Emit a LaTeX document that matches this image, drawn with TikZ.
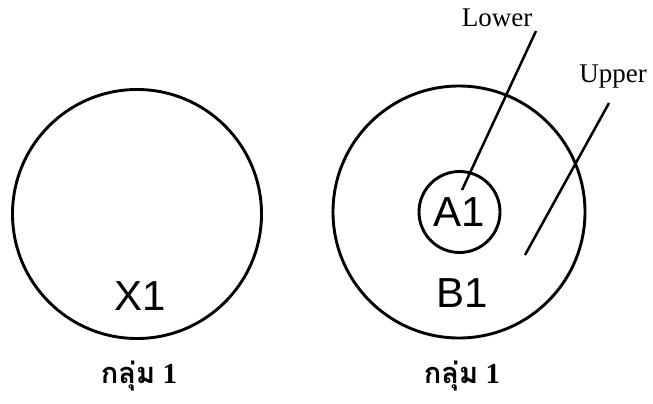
\documentclass[tikz,border=0pt]{standalone}
\usepackage{fontspec}
\setmainfont{Liberation Serif}
\setsansfont{Liberation Sans}
\newfontfamily\thaifont[Script=Thai]{Loma}
\tikzset{
  ring/.style={draw, circle, line width=2.9pt, inner sep=0pt},
  setname/.style={font=\sffamily\fontsize{42}{42}\selectfont},
  tag/.style={font=\fontsize{27}{27}\selectfont},
  group/.style={font=\bfseries\fontsize{29}{29}\selectfont}
}
\begin{document}
\begin{tikzpicture}[x=1pt,y=-1pt]
\useasboundingbox (0,0) rectangle (653,404);
% left set
\node[ring, minimum size=249pt] (setX) at (137,214) {};
\node[setname] (x1) at (140,296) {X1};
\node[group] (grpL) at (139,376) {{\thaifont กลุ่ม} 1};
% right set
\node[ring, minimum size=252pt] (setB) at (459,212) {};
\node[ring, minimum size=81pt, setname] (a1) at (459.5,212) {A1};
\node[setname] (b1) at (462,293) {B1};
\node[group] (grpR) at (462,376) {{\thaifont กลุ่ม} 1};
% labels
\node[tag] (lower) at (497,18) {Lower};
\node[tag] (upper) at (613,77) {Upper};
\coordinate (lowfoot) at (462,190);
\coordinate (lowtop) at (536,31);
\coordinate (upfoot) at (525,255);
\coordinate (uptop) at (609,103);
\draw[line width=2.5pt] (lowfoot) -- (lowtop);
\draw[line width=2.5pt] (upfoot) -- (uptop);
\end{tikzpicture}
\end{document}
